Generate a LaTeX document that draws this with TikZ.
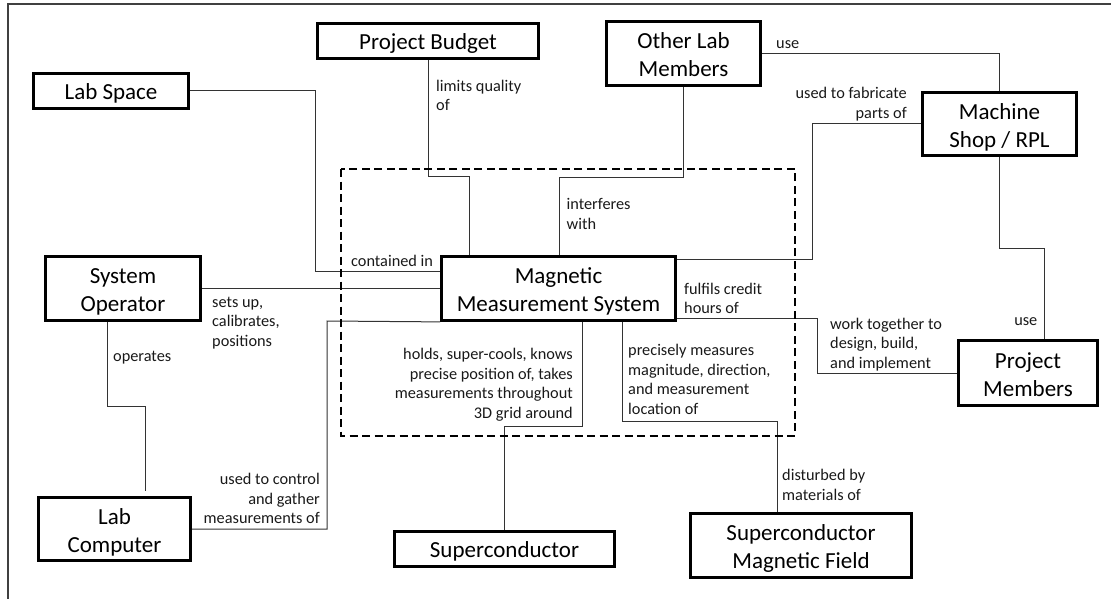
\documentclass[tikz,border=0pt]{standalone}
\usepackage{fontspec}
\setmainfont{Carlito}
\newcommand\boxfont{\fontsize{23}{28}\selectfont}
\newcommand\lblfont{\fontsize{16.3}{19.5}\selectfont}
\tikzset{
  box/.style={draw, line width=2.8pt, rectangle, align=center, font=\boxfont, inner sep=0pt},
  oneline/.style={box, text height=20pt, text depth=3pt},
  twoline/.style={box, text height=49pt, text depth=3pt},
  lbl/.style={font=\lblfont, inner sep=0pt, text=black!90},
  link/.style={draw=black!80, line width=1pt},
  frameline/.style={draw=black!75, line width=1.2pt},
  systembound/.style={draw=black, line width=2pt, dash pattern=on 8pt off 4.5pt},
}
\begin{document}
\begin{tikzpicture}[x=1pt, y=-1pt]
\useasboundingbox (0,0) rectangle (1111,599);
% outer frame (top and left edges)
\draw[frameline] (1111,4) -- (8,4) -- (8,599);

% entities
\node[oneline, minimum width=155, minimum height=35] (labspace)  at (111,91)      {Lab Space};
\node[oneline, minimum width=221, minimum height=35] (budget)    at (428,41)      {Project Budget};
\node[twoline, minimum width=154, minimum height=64] (others)    at (683.5,53.5)  {Other Lab\\Members};
\node[twoline, minimum width=154, minimum height=63] (shop)      at (999.5,124)   {Machine\\Shop / RPL};
\node[twoline, minimum width=155, minimum height=64] (operator)  at (123,288.5)   {System\\Operator};
\node[twoline, minimum width=234, minimum height=64] (mms)       at (558.5,288.5) {Magnetic\\Measurement System};
\node[twoline, minimum width=139, minimum height=65] (members)   at (1028,373)    {Project\\Members};
\node[twoline, minimum width=152, minimum height=63] (computer)  at (114.5,529)   {Lab\\Computer};
\node[oneline, minimum width=220, minimum height=35] (supercond) at (504.5,549)   {Superconductor};
\node[twoline, minimum width=221, minimum height=64] (field)     at (801,545.5)   {Superconductor\\Magnetic Field};

% bend points of the connectors
\coordinate (c1)  at (315,271);
\coordinate (c2)  at (469,176);
\coordinate (c3)  at (559,177);
\coordinate (c5)  at (812,259);
\coordinate (c6)  at (1044,248);
\coordinate (c7)  at (817,318);
\coordinate (c9a) at (107,406);
\coordinate (c9b) at (145,491);
\coordinate (c10) at (327,321);
\coordinate (c11) at (582,426);
\coordinate (c12) at (622,421);
\coordinate (c12b) at (777,421);

% connectors
\draw[link] (labspace.east) -| (c1) -- (c1 -| mms.west);
\draw[link] (budget.south) |- (c2) -- (c2 |- mms.north);
\draw[link] (others.south) |- (c3) -- (c3 |- mms.north);
\draw[link] (others.east) -| (shop.north);
\draw[link] (shop.west) -| (c5) -- (c5 -| mms.east);
\draw[link] (shop.south) |- (c6) -- (c6 |- members.north);
\draw[link] (c7 -| mms.east) -- (c7) |- (members.west);
\draw[link] (operator.east) -- (mms.west);
\draw[link] (c9a |- operator.south) -- (c9a) -| (c9b);
\draw[link] (computer.east) -| (c10) -- (mms.south west);
\draw[link] (c11 |- mms.south) -- (c11) -| (supercond.north);
\draw[link] (c12 |- mms.south) -- (c12) -- (c12b) -- (c12b |- field.north);

% system boundary
\draw[systembound] (341,169) rectangle (795,435.5);

% connector labels (anchored at the baseline of their last line)
\node[lbl, anchor=base west, align=left]  (l1)  at (436,111)   {limits quality\\of};
\node[lbl, anchor=base west, align=left]  (l2)  at (566.5,229) {interferes\\with};
\node[lbl, anchor=base west, align=left]  (l3)  at (776,49)    {use};
\node[lbl, anchor=base east, align=right] (l4)  at (907,118.5) {used to fabricate\\parts of};
\node[lbl, anchor=base west, align=left]  (l5)  at (351,266.5) {contained in};
\node[lbl, anchor=base west, align=left]  (l6)  at (212,346)   {sets up,\\calibrates,\\positions};
\node[lbl, anchor=base west, align=left]  (l7)  at (113,361.5) {operates};
\node[lbl, anchor=base west, align=left]  (l8)  at (684,313.5) {fulfils credit\\hours of};
\node[lbl, anchor=base west, align=left]  (l9)  at (830,368)   {work together to\\design, build,\\and implement};
\node[lbl, anchor=base east, align=right] (l10) at (1037.5,325) {use};
\node[lbl, anchor=base east, align=right] (l11) at (573,418)   {holds, super-cools, knows\\precise position of, takes\\measurements throughout\\3D grid around};
\node[lbl, anchor=base west, align=left]  (l12) at (628,414)   {precisely measures\\magnitude, direction,\\and measurement\\location of};
\node[lbl, anchor=base east, align=right] (l13) at (320,523.5) {used to control\\and gather\\measurements of};
\node[lbl, anchor=base west, align=left]  (l14) at (782,500)   {disturbed by\\materials of};
\end{tikzpicture}
\end{document}
